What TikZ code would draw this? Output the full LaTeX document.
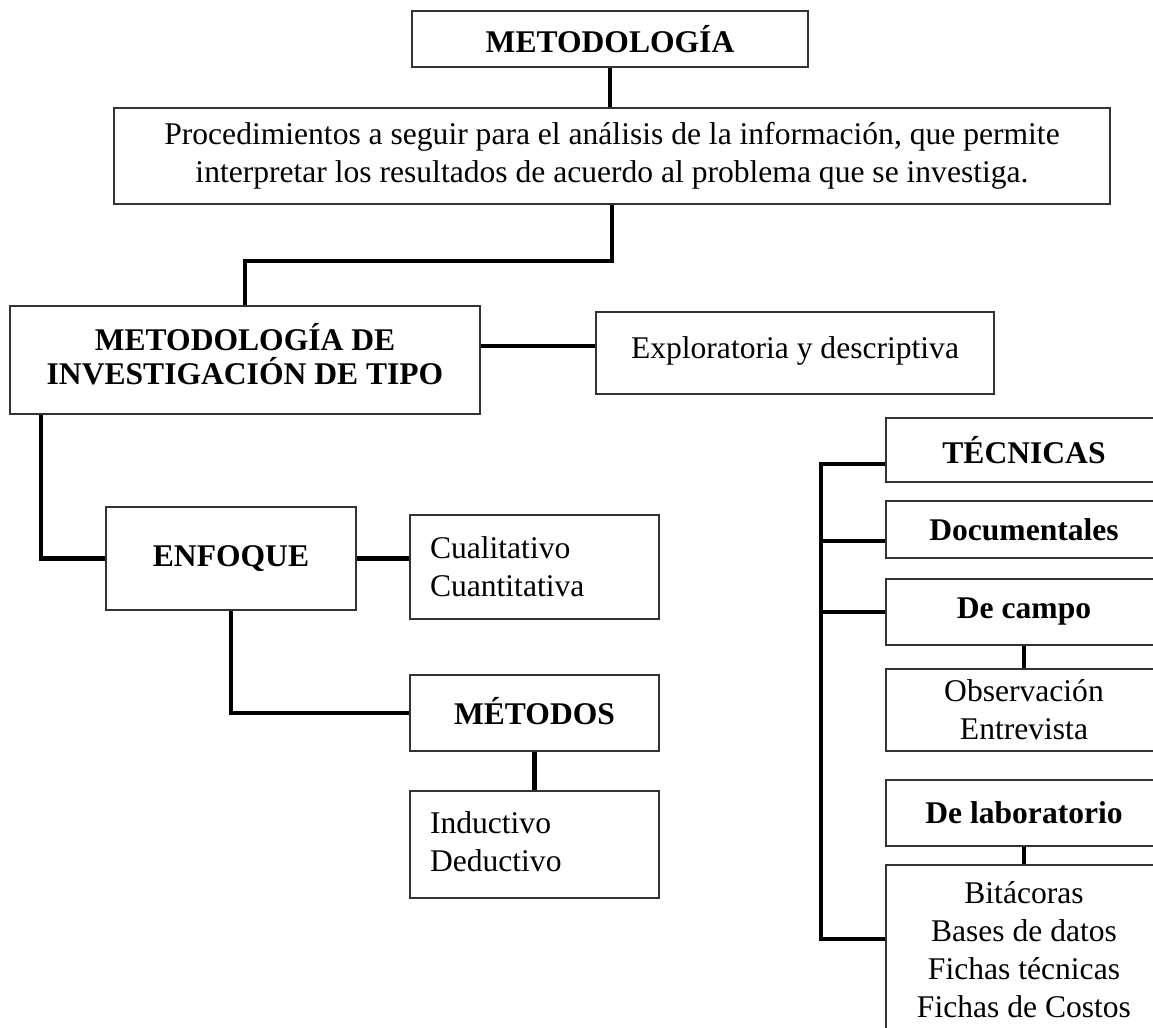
\documentclass[tikz,border=0pt]{standalone}
\usepackage{fontspec}
\setmainfont{Liberation Serif}
\begin{document}
\begin{tikzpicture}[x=0.38pt,y=-0.38pt,
  box/.style={draw=black!80, line width=0.6pt, rectangle, inner sep=0pt, align=center,
    font=\fontsize{12pt}{14.4pt}\selectfont},
  hbox/.style={box, font=\fontsize{12pt}{14.4pt}\selectfont\bfseries},
  lbox/.style={box, align=left, inner xsep=7.6pt, text width=79.42pt},
  conn/.style={line width=1.6pt, black}]
\path[use as bounding box] (0,0) rectangle (1153,1027);
\clip (0,0) rectangle (1153,1027);

% left / centre column
\node[hbox, minimum width=150.48pt, minimum height=21.28pt] (top) at (610,39) {METODOLOGÍA};
\node[box, minimum width=378.48pt, minimum height=36.48pt] (proc) at (612,156)
  {Procedimientos a seguir para el análisis de la información, que permite\\
   interpretar los resultados de acuerdo al problema que se investiga.};
\node[hbox, minimum width=178.6pt, minimum height=41.04pt] (mde) at (245,360)
  {\raisebox{1.5pt}{\begin{tabular}{@{}c@{}}METODOLOGÍA DE\\[-1.6pt]INVESTIGACIÓN DE TIPO\end{tabular}}};
\node[box, minimum width=151.24pt, minimum height=31.16pt] (expl) at (795,353)
  {\raisebox{3.8pt}{Exploratoria y descriptiva}};
\node[hbox, minimum width=95pt, minimum height=39.14pt] (enf) at (231,558.5) {ENFOQUE};
\node[lbox, minimum height=39.52pt] (cual) at (534.5,567)
  {Cualitativo\\Cuantitativa};
\node[hbox, minimum width=94.62pt, minimum height=28.88pt] (met) at (534.5,713)
  {\raisebox{1.5pt}{MÉTODOS}};
\node[lbox, minimum height=40.66pt] (ind) at (534.5,844.5)
  {\raisebox{1.9pt}{\begin{tabular}{@{}l@{}}Inductivo\\Deductivo\end{tabular}}};

% right column (boxes run past the right edge)
\node[hbox, minimum width=104.88pt, minimum height=24.32pt] (tec) at (1024,450) {TÉCNICAS};
\node[hbox, minimum width=104.88pt, minimum height=21.66pt] (doc) at (1024,529.5) {Documentales};
\node[hbox, minimum width=104.88pt, minimum height=25.08pt] (campo) at (1024,612) {De campo};
\node[box, minimum width=104.88pt, minimum height=31.16pt] (obs) at (1024,710)
  {Observación\\Entrevista};
\node[hbox, minimum width=104.88pt, minimum height=25.08pt] (lab) at (1024,813) {De laboratorio};
\node[box, minimum width=104.88pt, minimum height=64.6pt] (bit) at (1024,950)
  {Bitácoras\\Bases de datos\\Fichas técnicas\\Fichas de Costos};

% connectors
\draw[conn] (top.south) -- (top.south |- proc.north);
\draw[conn] (proc.south) -- ++(0,56) -| (mde.north);
\draw[conn] ([yshift=2.6pt]expl.west) -- ([yshift=2.6pt]expl.west -| mde.east);
\draw[conn] (mde.south west) ++(32,0) |- (enf.west);
\draw[conn] (enf.east) -- (enf.east -| cual.west);
\draw[conn] (enf.south) |- (met.west);
\draw[conn] (met.south) -- (ind.north);
\coordinate (tb) at (821,939);
\draw[conn] ([yshift=-5.3pt]tec.west) -| (tb) -- (tb -| bit.west);
\draw[conn] ([yshift=-4.4pt]doc.west) -- ([yshift=-4.4pt]doc.west -| tb);
\draw[conn] (campo.west) -- (campo.west -| tb);
\draw[conn] (campo.south) -- (obs.north);
\draw[conn] (lab.south) -- (bit.north);
\end{tikzpicture}
\end{document}
